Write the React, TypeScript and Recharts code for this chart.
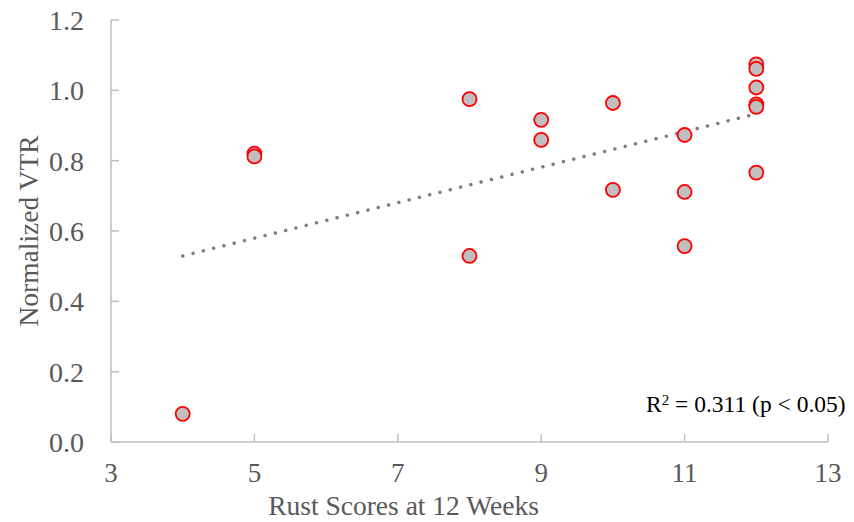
import { Scatter, XAxis, YAxis, Line, ComposedChart } from "recharts";

const rustScores = [4, 5, 5, 8, 8, 9, 9, 10, 10, 11, 11, 11, 12, 12, 12, 12, 12, 12];
const normalizedVtr = [0.08, 0.82, 0.812, 0.975, 0.529, 0.916, 0.859, 0.964, 0.717, 0.873, 0.711, 0.557, 1.074, 1.061, 1.008, 0.96, 0.953, 0.766];

const trendX = [4, 12];
const trendY = [0.529, 0.933];

const xTicks = [3, 5, 7, 9, 11, 13];
const yTicks = [0, 0.2, 0.4, 0.6, 0.8, 1.0, 1.2];

const points = rustScores.map((x, i) => ({ x, y: normalizedVtr[i] }));
const trend = trendX.map((x, i) => ({ x, t: trendY[i] }));

const FONT = "'Liberation Serif', 'Times New Roman', serif";
const AXIS = "#bfbfbf";
const TEXT = "#595959";

export default function App() {
  return (
    <div style={{ position: "absolute", left: 0, top: 0, width: 854, height: 522, background: "#fff" }}>
      <ComposedChart width={854} height={522} margin={{ top: 20, right: 26, left: 0, bottom: 0 }}>
        <XAxis
          type="number"
          dataKey="x"
          domain={[3, 13]}
          ticks={xTicks}
          height={80}
          stroke={AXIS}
          strokeWidth={1.5}
          tickSize={-8}
          tickMargin={29}
          tick={{ fontSize: 27, fill: TEXT, fontFamily: FONT }}
          label={{
            value: "Rust Scores at 12 Weeks",
            position: "insideBottom",
            offset: 7,
            dx: -66,
            style: { fontSize: 27.5, fill: TEXT, fontFamily: FONT },
          }}
        />
        <YAxis
          type="number"
          domain={[0, 1.2]}
          ticks={yTicks}
          width={111}
          stroke={AXIS}
          strokeWidth={1.5}
          tickSize={-8}
          tickMargin={35}
          tickFormatter={(v: number) => v.toFixed(1)}
          tick={{ fontSize: 28, fill: TEXT, fontFamily: FONT }}
          label={{
            value: "Normalized VTR",
            angle: -90,
            position: "insideLeft",
            offset: 28,
            style: { textAnchor: "middle", fontSize: 27.5, fill: TEXT, fontFamily: FONT },
          }}
        />
        <Line
          data={trend}
          dataKey="t"
          type="linear"
          stroke="#808080"
          strokeWidth={3.5}
          strokeDasharray="0.1 10.5"
          strokeLinecap="round"
          dot={false}
          activeDot={false}
          isAnimationActive={false}
        />
        <Scatter
          data={points}
          dataKey="y"
          fill="#bfbfbf"
          stroke="#ff0000"
          shape={(p: any) => <circle cx={p.cx} cy={p.cy} r={7} fill="#bfbfbf" stroke="#ff0000" strokeWidth={1.8} />}
          isAnimationActive={false}
        />
      </ComposedChart>
      <div
        style={{
          position: "absolute",
          left: 646,
          top: 391,
          fontFamily: FONT,
          fontSize: 23.5,
          color: "#000",
          whiteSpace: "nowrap",
        }}
      >
        R<sup style={{ fontSize: 15, verticalAlign: "7px", lineHeight: 0 }}>2</sup> = 0.311 (p &lt; 0.05)
      </div>
    </div>
  );
}
